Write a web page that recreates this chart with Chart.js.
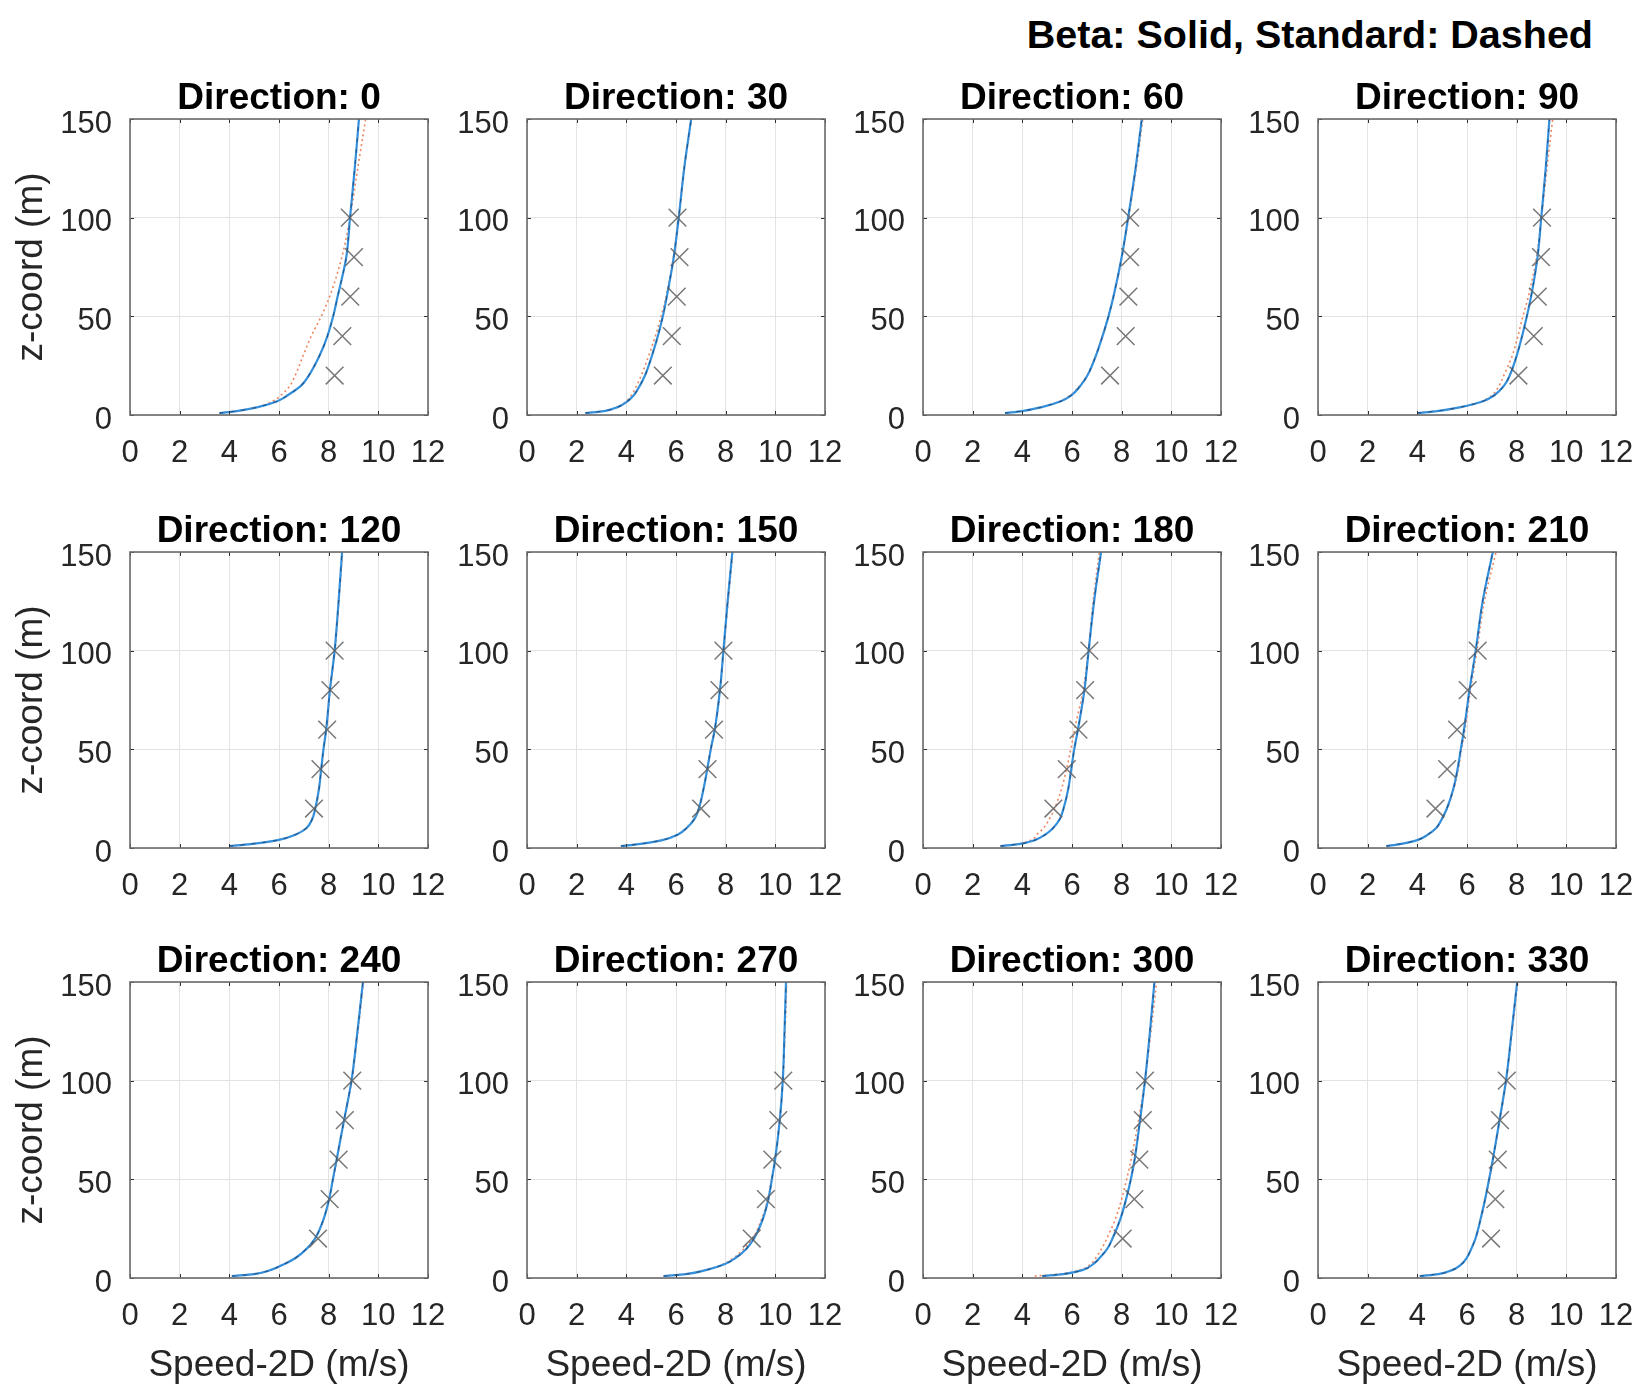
<!DOCTYPE html>
<html>
<head>
<meta charset="utf-8">
<script src="https://cdn.jsdelivr.net/npm/chart.js@4.4.1/dist/chart.umd.min.js"></script>
<style>
html,body{margin:0;padding:0;background:#fff;overflow:hidden;}
#fig{position:relative;width:1641px;height:1387px;overflow:hidden;background:#fff;}
#fig canvas{position:absolute;}
#note{position:absolute;right:48px;top:13px;font:bold 39.5px "Liberation Sans",Arial,Helvetica,sans-serif;line-height:42px;color:#000;white-space:nowrap;}
</style>
</head>
<body>
<div id="fig"><div id="note">Beta: Solid, Standard: Dashed</div></div>
<script>
// ---------------- data ----------------
const directions = [0, 30, 60, 90, 120, 150, 180, 210, 240, 270, 300, 330];
const zLevels = [1, 2, 4, 7, 10, 15, 20, 30, 40, 50, 60, 80, 100, 125, 150];
const mastHeights = [20, 40, 60, 80, 100];
const xTicks = [0, 2, 4, 6, 8, 10, 12];
const yTicks = [0, 50, 100, 150];

// Beta profile (solid), speed at each zLevel, one row per direction
const betaSpeeds = [
  [3.6, 4.3, 5.15, 5.93, 6.35, 6.9, 7.2, 7.63, 7.95, 8.18, 8.36, 8.71, 8.86, 9.05, 9.22],
  [2.35, 3.1, 3.65, 4.05, 4.3, 4.55, 4.75, 5.03, 5.27, 5.47, 5.63, 5.91, 6.11, 6.33, 6.61],
  [3.3, 4.0, 4.78, 5.55, 5.97, 6.35, 6.62, 6.96, 7.23, 7.47, 7.67, 8.0, 8.26, 8.56, 8.81],
  [4.0, 4.8, 5.75, 6.65, 7.1, 7.5, 7.72, 8.0, 8.22, 8.41, 8.58, 8.84, 8.99, 9.17, 9.32],
  [4.0, 4.85, 5.95, 6.7, 7.1, 7.35, 7.46, 7.61, 7.7, 7.79, 7.9, 8.05, 8.24, 8.4, 8.54],
  [3.78, 4.5, 5.45, 6.1, 6.42, 6.76, 6.92, 7.11, 7.26, 7.4, 7.56, 7.77, 7.91, 8.08, 8.27],
  [3.12, 3.85, 4.5, 4.95, 5.23, 5.52, 5.66, 5.85, 5.97, 6.09, 6.24, 6.5, 6.67, 6.89, 7.17],
  [2.75, 3.3, 4.0, 4.45, 4.75, 5.0, 5.19, 5.45, 5.62, 5.75, 5.88, 6.1, 6.35, 6.63, 7.04],
  [4.1, 5.0, 5.65, 6.2, 6.65, 7.13, 7.45, 7.8, 8.02, 8.17, 8.32, 8.62, 8.92, 9.16, 9.38],
  [5.5, 6.4, 7.2, 7.95, 8.38, 8.85, 9.14, 9.5, 9.72, 9.86, 9.99, 10.18, 10.3, 10.37, 10.43],
  [4.8, 5.65, 6.42, 6.85, 7.1, 7.43, 7.63, 7.95, 8.18, 8.37, 8.52, 8.74, 8.94, 9.14, 9.32],
  [4.1, 4.85, 5.4, 5.78, 5.98, 6.18, 6.34, 6.55, 6.73, 6.89, 7.04, 7.31, 7.57, 7.8, 8.02]
];

// Standard profile (dashed), speed at each zLevel
const standardSpeeds = [
  [3.6, 4.3, 5.15, 5.75, 6.08, 6.45, 6.65, 6.97, 7.3, 7.7, 8.04, 8.53, 8.86, 9.17, 9.49],
  [2.35, 3.1, 3.65, 4.0, 4.2, 4.42, 4.6, 4.9, 5.17, 5.4, 5.6, 5.9, 6.1, 6.33, 6.63],
  [3.3, 4.0, 4.78, 5.52, 5.94, 6.32, 6.6, 6.95, 7.22, 7.46, 7.67, 8.01, 8.28, 8.59, 8.85],
  [4.0, 4.8, 5.75, 6.6, 7.0, 7.3, 7.48, 7.82, 8.05, 8.25, 8.47, 8.8, 9.0, 9.22, 9.45],
  [4.0, 4.85, 5.95, 6.7, 7.08, 7.33, 7.45, 7.6, 7.7, 7.79, 7.9, 8.06, 8.25, 8.41, 8.56],
  [3.78, 4.5, 5.45, 6.08, 6.4, 6.74, 6.9, 7.1, 7.25, 7.4, 7.56, 7.77, 7.92, 8.1, 8.29],
  [3.1, 3.8, 4.35, 4.6, 4.85, 5.1, 5.3, 5.58, 5.78, 5.95, 6.1, 6.45, 6.66, 6.85, 7.1],
  [2.75, 3.3, 4.0, 4.45, 4.75, 5.0, 5.2, 5.47, 5.65, 5.78, 5.92, 6.14, 6.4, 6.7, 7.17],
  [4.1, 5.0, 5.65, 6.2, 6.65, 7.12, 7.44, 7.8, 8.02, 8.18, 8.33, 8.63, 8.93, 9.18, 9.4],
  [5.5, 6.4, 7.2, 7.9, 8.3, 8.75, 9.08, 9.45, 9.7, 9.85, 9.98, 10.17, 10.3, 10.39, 10.46],
  [4.5, 5.5, 6.3, 6.75, 6.95, 7.2, 7.4, 7.75, 8.0, 8.2, 8.38, 8.68, 8.93, 9.18, 9.41],
  [4.1, 4.85, 5.4, 5.78, 5.98, 6.18, 6.34, 6.56, 6.74, 6.9, 7.05, 7.32, 7.58, 7.82, 8.04]
];

// Measured speeds (x markers) at mastHeights
const measuredSpeeds = [
  [8.24, 8.55, 8.87, 9.02, 8.85],
  [5.47, 5.83, 6.03, 6.14, 6.06],
  [7.53, 8.16, 8.27, 8.34, 8.34],
  [8.07, 8.69, 8.85, 8.98, 9.02],
  [7.41, 7.67, 7.94, 8.07, 8.24],
  [7.01, 7.27, 7.53, 7.75, 7.91],
  [5.25, 5.79, 6.26, 6.53, 6.7],
  [4.73, 5.2, 5.6, 6.03, 6.43],
  [7.57, 8.04, 8.4, 8.65, 8.95],
  [9.05, 9.62, 9.88, 10.12, 10.32],
  [8.04, 8.51, 8.71, 8.85, 8.94],
  [6.97, 7.14, 7.24, 7.33, 7.6]
];

// ---------------- layout ----------------
const FONT = '"Liberation Sans", Arial, Helvetica, sans-serif';
const colLeft = [130, 527, 923, 1318];
const rowTop = [119, 552, 982];
const plotW = 298, plotH = 296;
const padL = 130, padT = 80, padR = 40, padB = 110;
const titleSize = 37, titleLH = 1.1;
const labelSize = 37, tickSize = 31;

const boxPlugin = {
  id: 'axesBox',
  afterDraw(chart) {
    const {ctx, chartArea: a, scales} = chart;
    ctx.save();
    ctx.strokeStyle = '#303030';
    ctx.lineWidth = 1;
    ctx.beginPath();
    xTicks.forEach(v => {
      const px = Math.round(scales.x.getPixelForValue(v)) + 0.5;
      ctx.moveTo(px, a.bottom); ctx.lineTo(px, a.bottom - 4);
      ctx.moveTo(px, a.top); ctx.lineTo(px, a.top + 4);
    });
    yTicks.forEach(v => {
      const py = Math.round(scales.y.getPixelForValue(v)) + 0.5;
      ctx.moveTo(a.left, py); ctx.lineTo(a.left + 4, py);
      ctx.moveTo(a.right, py); ctx.lineTo(a.right - 4, py);
    });
    ctx.stroke();
    ctx.strokeStyle = '#6a6a6a';
    ctx.lineWidth = 1.6;
    ctx.strokeRect(a.left, a.top, a.width, a.height);
    ctx.restore();
  }
};

const fig = document.getElementById('fig');

directions.forEach((d, i) => {
  const r = Math.floor(i / 4), c = i % 4;
  const W = padL + plotW + padR, H = padT + plotH + padB;
  const cv = document.createElement('canvas');
  cv.width = W; cv.height = H;
  cv.style.width = W + 'px'; cv.style.height = H + 'px';
  cv.style.left = (colLeft[c] - padL) + 'px';
  cv.style.top = (rowTop[r] - padT) + 'px';
  fig.appendChild(cv);

  const curve = sp => zLevels.map((z, k) => ({x: sp[k], y: z}));
  const lineBase = {pointRadius: 0, fill: false, cubicInterpolationMode: 'monotone'};

  new Chart(cv, {
    type: 'line',
    data: {
      datasets: [
        {label: 'Measured', data: mastHeights.map((z, k) => ({x: measuredSpeeds[i][k], y: z})),
         showLine: false, pointStyle: 'crossRot', pointRadius: 12.5, pointBorderWidth: 1.5,
         borderColor: 'rgba(95,95,95,0.85)', backgroundColor: 'rgba(0,0,0,0)', order: 0},
        Object.assign({label: 'Beta (dash overlay)', data: curve(betaSpeeds[i]),
         borderColor: 'rgba(30,70,115,0.8)', borderWidth: 1.1, borderDash: [4, 7], order: 1}, lineBase),
        Object.assign({label: 'Beta', data: curve(betaSpeeds[i]),
         borderColor: '#3590dc', borderWidth: 2.2, order: 2}, lineBase),
        Object.assign({label: 'Standard', data: curve(standardSpeeds[i]),
         borderColor: '#ee8660', borderWidth: 1.6, borderDash: [2, 3], order: 3}, lineBase)
      ]
    },
    options: {
      indexAxis: 'y',
      responsive: false,
      animation: false,
      events: [],
      devicePixelRatio: 1,
      layout: {padding: {left: 0, right: padR, top: padT - titleSize * titleLH, bottom: 0}},
      plugins: {
        legend: {display: false},
        tooltip: {enabled: false},
        title: {
          display: true, text: 'Direction: ' + d, fullSize: false, color: '#000',
          font: {family: FONT, size: titleSize, weight: 'bold', lineHeight: titleLH},
          padding: {top: 0, bottom: 0}
        }
      },
      scales: {
        x: {
          type: 'linear', position: 'bottom', min: 0, max: 12,
          afterBuildTicks: s => { s.ticks = xTicks.map(v => ({value: v})); },
          ticks: {font: {family: FONT, size: tickSize}, color: '#262626', padding: 20, maxRotation: 0, autoSkip: false},
          grid: {color: '#e3e3e3', lineWidth: 1, drawTicks: false},
          border: {display: false},
          title: {display: r === 2, text: 'Speed-2D (m/s)', color: '#262626',
                  font: {family: FONT, size: labelSize, lineHeight: 1.2}, padding: {top: 0, bottom: 0}},
          afterFit: s => { s.height = padB; s.paddingLeft = 0; s.paddingRight = 0; }
        },
        y: {
          type: 'linear', position: 'left', min: 0, max: 150,
          afterBuildTicks: s => { s.ticks = yTicks.map(v => ({value: v})); },
          ticks: {font: {family: FONT, size: tickSize}, color: '#262626', padding: 18, labelOffset: 5, autoSkip: false},
          grid: {color: '#e3e3e3', lineWidth: 1, drawTicks: false},
          border: {display: false},
          title: {display: c === 0, text: 'z-coord (m)', color: '#262626',
                  font: {family: FONT, size: labelSize, lineHeight: 1.2}, padding: {top: 10, bottom: 0}},
          afterFit: s => { s.width = padL; s.paddingTop = 0; s.paddingBottom = 0; }
        }
      }
    },
    plugins: [boxPlugin]
  });
});
</script>
</body>
</html>
